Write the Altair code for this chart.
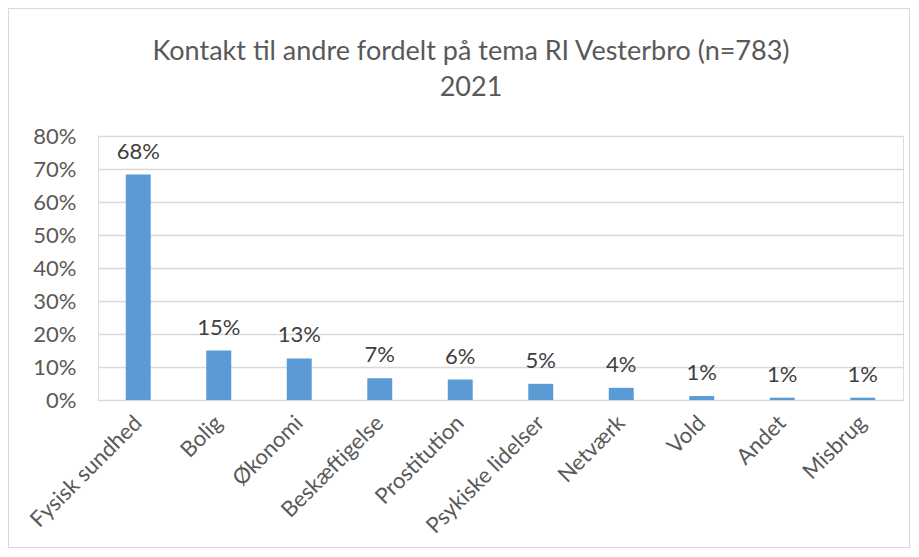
import altair as alt
import pandas as pd

categories = ["Fysisk sundhed", "Bolig", "Økonomi", "Beskæftigelse", "Prostitution",
              "Psykiske lidelser", "Netværk", "Vold", "Andet", "Misbrug"]
values = [0.683, 0.150, 0.126, 0.066, 0.062, 0.049, 0.037, 0.012, 0.007, 0.007]
title_lines = ["Kontakt til andre fordelt på tema RI Vesterbro (n=783)", "2021"]

df = pd.DataFrame({"tema": categories, "andel": values})

W, H = 805, 264
PL, PT, PR, PB = 90, 128, 8, 149
GREY = "#595959"
FONT = "Lato"
FS = 22

x = alt.X("tema:N", sort=categories, title=None,
          scale=alt.Scale(paddingInner=0.69, paddingOuter=0.345),
          axis=alt.Axis(labelAngle=-45, labelFontSize=FS, labelColor=GREY, labelFont=FONT,
                        ticks=False, domainColor="#d9d9d9", labelPadding=19,
                        labelAlign="right", labelBaseline="middle"))
y = alt.Y("andel:Q", title=None,
          scale=alt.Scale(domain=[0, 0.8], nice=False),
          axis=alt.Axis(format=".0%", values=[i / 10 for i in range(9)], labelFontSize=FS,
                        labelColor=GREY, labelFont=FONT, ticks=False, domain=False,
                        gridColor="#d9d9d9", gridWidth=1.3, labelPadding=22))

bars = alt.Chart(df).mark_bar(color="#5b9bd5").encode(x=x, y=y)
labels = alt.Chart(df).mark_text(baseline="bottom", dy=-11, fontSize=FS, color="#404040",
                                 font=FONT).encode(x=x, y=y, text=alt.Text("andel:Q", format=".0%"))
frame = alt.Chart(df).mark_rect(fill=None, stroke="#d9d9d9", strokeWidth=1, clip=False).encode(
    x=alt.value(-PL + 0.5), x2=alt.value(W + PR - 1.5),
    y=alt.value(-PT + 0.5), y2=alt.value(H + PB - 1.5))

title1 = alt.Chart(pd.DataFrame({"line": [title_lines[0]]})).mark_text(
    fontSize=27, font=FONT, color=GREY, baseline="middle", align="center").encode(
    text="line:N", x=alt.value(373), y=alt.value(-84))
title2 = alt.Chart(pd.DataFrame({"line": [title_lines[1]]})).mark_text(
    fontSize=27, font=FONT, color=GREY, baseline="middle", align="center").encode(
    text="line:N", x=alt.value(373), y=alt.value(-48))

chart = alt.layer(frame, bars, labels, title1, title2).properties(
    width=W, height=H,
    padding={"left": PL, "top": PT, "right": PR, "bottom": PB},
    autosize=alt.AutoSizeParams(type="none"),
).configure_view(stroke=None).configure(background="white")

chart.save("out.html", embed_options={"renderer": "svg", "actions": False})
